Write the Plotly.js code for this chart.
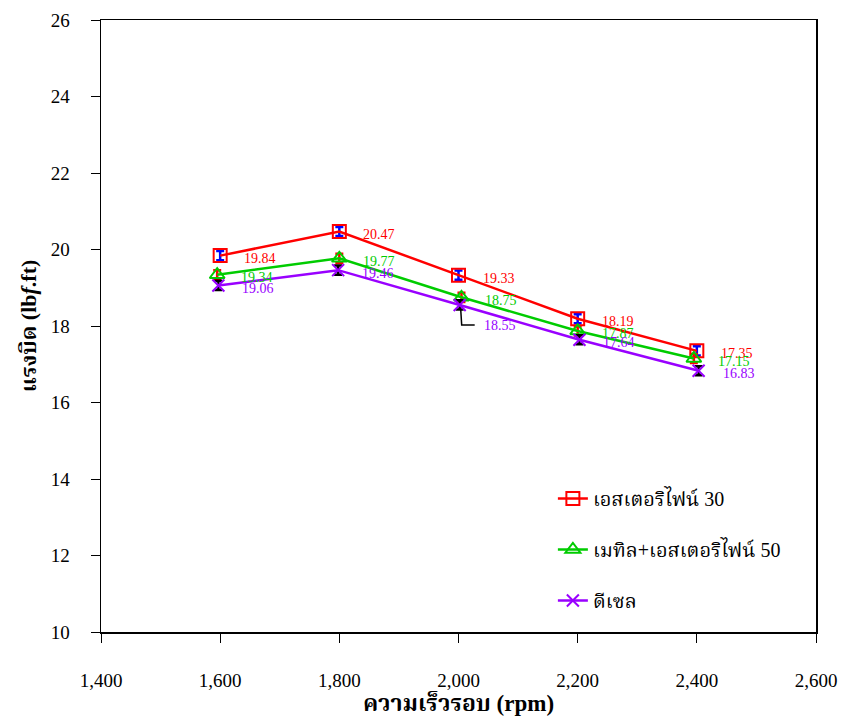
<!DOCTYPE html>
<html>
<head>
<meta charset="utf-8">
<script src="https://cdn.plot.ly/plotly-3.0.1.min.js"></script>
<style>html,body{margin:0;padding:0;background:#fff;}#chart{width:843px;height:718px;}</style>
</head>
<body>
<div id="chart"></div>
<script>
// ---- data ----
var seriesNames = ['เอสเตอริไฟน์ 30', 'เมทิล+เอสเตอริไฟน์ 50', 'ดีเซล'];
var speedEster30 = [1600, 1800, 2000, 2200, 2400];
var torqueEster30 = [19.84, 20.47, 19.33, 18.19, 17.35];
var errEster30 = [0.12, 0.12, 0.12, 0.12, 0.12];
var speedMethyl50 = [1595, 1800, 2005, 2200, 2395];
var torqueMethyl50 = [19.34, 19.77, 18.75, 17.87, 17.15];
var errMethyl50 = [0.12, 0.12, 0.12, 0.12, 0.12];
var speedDiesel = [1597, 1798, 2002, 2203, 2403];
var torqueDiesel = [19.06, 19.46, 18.55, 17.64, 16.83];
var errDiesel = [0.12, 0.12, 0.12, 0.12, 0.12];
var xTickVals = [1400, 1600, 1800, 2000, 2200, 2400, 2600];
var xTickText = ['1,400', '1,600', '1,800', '2,000', '2,200', '2,400', '2,600'];
var yTickVals = [10, 12, 14, 16, 18, 20, 22, 24, 26];

var FONT = 'Liberation Serif, Times New Roman, Norasi, Noto Serif Thai, serif';

function mk(name, xs, ys, errs, color, errColor, symbol, size, group) {
  return {
    type: 'scatter', mode: 'lines+markers', name: name, x: xs, y: ys,
    legendgroup: group,
    line: {color: color, width: 2.5},
    marker: {symbol: symbol, size: size, color: color, line: {color: color, width: 2}},
    error_y: {type: 'data', array: errs, visible: true, color: errColor, thickness: 2.5, width: 4}
  };
}

var traces = [
  mk(seriesNames[0], speedEster30, torqueEster30, errEster30, '#ff0000', '#0000ff', 'square-open', 13, 'a'),
  mk(seriesNames[1], speedMethyl50, torqueMethyl50, errMethyl50, '#00cc00', '#ff0000', 'triangle-up-open', 13, 'b'),
  mk(seriesNames[2], speedDiesel, torqueDiesel, errDiesel, '#9900ff', '#000000', 'x-thin-open', 12, 'c')
];

var annotations = [];
function addLabels(xs, ys, color, specialIdx) {
  for (var i = 0; i < xs.length; i++) {
    var down = (i === specialIdx) ? -21 : -3;
    annotations.push({
      x: xs[i], y: ys[i], xref: 'x', yref: 'y', text: ys[i].toFixed(2),
      showarrow: false, xanchor: 'left', yanchor: 'middle',
      xshift: 22, yshift: down,
      font: {family: FONT, size: 14, color: color}
    });
  }
}
addLabels(speedEster30, torqueEster30, '#ff0000', -1);
addLabels(speedMethyl50, torqueMethyl50, '#00cc00', -1);
addLabels(speedDiesel, torqueDiesel, '#9900ff', 2);

var shapes = [{
  type: 'path', xref: 'x', yref: 'y',
  xsizemode: 'pixel', ysizemode: 'pixel',
  xanchor: speedDiesel[2], yanchor: torqueDiesel[2],
  path: 'M1,-4 L2,-20 L15,-20',
  line: {color: '#000000', width: 1.5}
}];

var layout = {
  width: 843, height: 718,
  paper_bgcolor: '#ffffff', plot_bgcolor: '#ffffff',
  margin: {l: 101, r: 27, t: 20, b: 86},
  font: {family: FONT, size: 19, color: '#000'},
  showlegend: true,
  legend: {
    x: 0.632, y: 0.25, xanchor: 'left', yanchor: 'top',
    bgcolor: 'rgba(0,0,0,0)', borderwidth: 0,
    font: {family: FONT, size: 20, color: '#000'},
    traceorder: 'grouped', tracegroupgap: 22
  },
  xaxis: {
    range: [1400, 2600], tickvals: xTickVals, ticktext: xTickText,
    ticks: 'outside', ticklen: 9, tickwidth: 1, tickcolor: '#000',
    ticklabelstandoff: 22,
    showline: true, linecolor: '#000', linewidth: 1.5, mirror: true,
    showgrid: false, zeroline: false,
    tickfont: {family: FONT, size: 19, color: '#000'},
    title: {text: '<b>ความเร็วรอบ (rpm)</b>', font: {family: FONT, size: 23, color: '#000'}, standoff: 2}
  },
  yaxis: {
    range: [10, 26], tickvals: yTickVals,
    ticks: 'outside', ticklen: 9, tickwidth: 1, tickcolor: '#000',
    ticklabelstandoff: 17,
    showline: true, linecolor: '#000', linewidth: 1.5, mirror: true,
    showgrid: false, zeroline: false,
    tickfont: {family: FONT, size: 19, color: '#000'},
    title: {text: '<b>แรงบิด (lb<i>f</i>.ft)</b>', font: {family: FONT, size: 22, color: '#000'}, standoff: 8}
  },
  annotations: annotations,
  shapes: shapes
};

Plotly.newPlot('chart', traces, layout, {displayModeBar: false, staticPlot: true});
</script>
</body>
</html>
